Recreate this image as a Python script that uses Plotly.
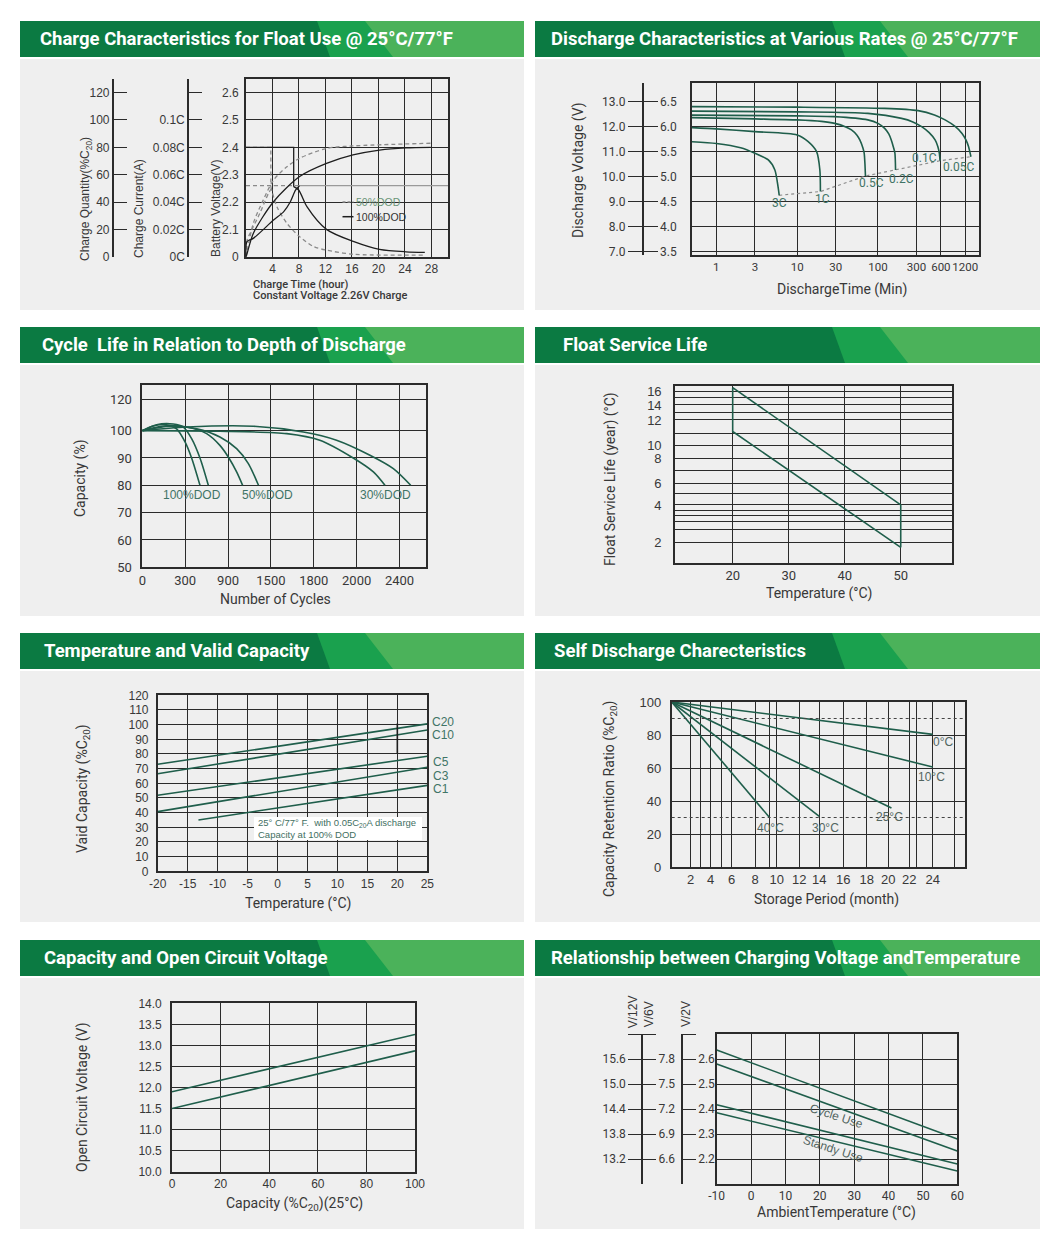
import numpy as np
import plotly.graph_objects as go

W, H = 1060, 1250
OFF = 8  # page body margin of the rendered html
FA = "Liberation Sans, Arial, sans-serif"
FD = "Roboto, sans-serif"
INK = "#2b2b2b"
TXT = "#383838"
CURVE = "#1f5e4b"
LBL = "#3f7466"
GRAYC = "#8a8a8a"

# ---------------- DATA ----------------
# Panel 1: charge characteristics (time in hours)
p1_x_ticks = [4, 8, 12, 16, 20, 24, 28]
p1_v_ticks = [2.0, 2.1, 2.2, 2.3, 2.4, 2.5, 2.6]
p1_v_labels = ["0", "2.1", "2.2", "2.3", "2.4", "2.5", "2.6"]
p1_q_ticks = [0, 20, 40, 60, 80, 100, 120]
p1_c_ticks = [0, 0.02, 0.04, 0.06, 0.08, 0.10]
p1_c_labels = ["0C", "0.02C", "0.04C", "0.06C", "0.08C", "0.1C"]
p1_c_top = 0.12
p1_cur100_t = [0, 7.2, 7.2, 7.95, 9.2, 12.15, 16.3, 20.15, 24.15, 27.0]
p1_cur100_c = [0.08, 0.08, 0.0512, 0.0488, 0.0366, 0.020, 0.011, 0.0054, 0.0036, 0.0032]
p1_cur50_t = [0, 3.75, 3.75, 4.66, 6.18, 8.1, 10.2, 12.15, 16.15, 26.7]
p1_cur50_c = [0.08, 0.08, 0.0512, 0.0366, 0.0244, 0.0146, 0.0074, 0.0048, 0.0018, 0.0012]
p1_q100_t = [0, 0.1, 1.1, 4.15, 8.1, 12.15, 16.15, 20.15, 24.15, 27.9]
p1_q100 = [0, 1.2, 17, 40.2, 58.6, 68.2, 74.4, 78, 79.6, 80]
p1_q50_t = [0, 0.1, 1.1, 2.6, 4.15, 6.18, 8.1, 12.15, 16.15, 27.9]
p1_q50 = [0, 2.4, 24.4, 41.4, 56, 65.8, 72, 79.2, 81, 83]
p1_v100_t = [0, 0.15, 1.1, 4.15, 5.7, 6.7, 7.5, 8.1]
p1_v100 = [2.0, 2.055, 2.067, 2.134, 2.165, 2.201, 2.244, 2.26]
p1_v50_t = [0, 0.15, 0.6, 2.1, 3.4, 4.15]
p1_v50 = [2.0, 2.06, 2.085, 2.159, 2.232, 2.26]
p1_cv = 2.26

# Panel 2: discharge (time in minutes, voltage 12V)
p2_x_ticks = [1, 3, 10, 30, 100, 300, 600, 1200]
p2_v12_ticks = [7, 8, 9, 10, 11, 12, 13]
p2_v6_ticks = [3.5, 4.0, 4.5, 5.0, 5.5, 6.0, 6.5]
p2_rates = ["3C", "1C", "0.5C", "0.2C", "0.1C", "0.05C"]
p2_t_3C = [0.5, 1, 2, 3, 4.4, 5.3, 5.8, 6.0]
p2_v_3C = [11.39, 11.32, 11.15, 10.93, 10.66, 10.26, 9.6, 9.25]
p2_t_1C = [0.5, 1, 3, 10, 13.7, 17.4, 19.1, 19.4]
p2_v_1C = [11.95, 11.9, 11.79, 11.66, 11.39, 10.99, 10.26, 9.4]
p2_t_05C = [0.5, 3, 10, 20, 29.2, 40, 47, 55, 59.6, 65, 67.5, 69, 70]
p2_v_05C = [12.35, 12.3, 12.26, 12.2, 12.12, 11.98, 11.86, 11.65, 11.46, 11.15, 10.93, 10.5, 10.02]
p2_t_02C = [0.5, 10, 29, 75, 100, 121, 136, 146, 156, 162, 165]
p2_v_02C = [12.45, 12.42, 12.39, 12.26, 12.12, 11.92, 11.7, 11.46, 11.15, 10.93, 10.26]
p2_t_01C = [0.5, 10, 75, 196, 270, 347, 430, 509, 550, 574, 586]
p2_v_01C = [12.61, 12.58, 12.52, 12.32, 12.18, 11.99, 11.75, 11.46, 11.2, 10.93, 10.63]
p2_t_005C = [0.5, 10, 121, 314, 500, 677, 900, 1097, 1230, 1322, 1413]
p2_v_005C = [12.79, 12.77, 12.72, 12.63, 12.46, 12.26, 12.0, 11.72, 11.45, 11.19, 10.79]

# Panel 3: cycle life
p3_x_ticks = [0, 300, 900, 1500, 1800, 2000, 2400]
p3_y_ticks = [50, 60, 70, 80, 90, 100, 120]
p3_cyc_A = [0, 77, 170, 240, 299, 390, 507]
p3_cap_A = [100, 103.0, 103.8, 101.2, 95.9, 90, 80]
p3_cyc_B = [0, 100, 217, 287, 390, 507, 624]
p3_cap_B = [100, 103.8, 104.2, 102.3, 97.1, 90, 80]
p3_cyc_C = [0, 147, 320, 600, 786, 912, 1020, 1104]
p3_cap_C = [100, 103.0, 102.3, 98.9, 94.6, 90, 84.9, 80]
p3_cyc_D = [0, 194, 462, 786, 1020, 1182, 1326]
p3_cap_D = [100, 102.8, 101.2, 97.7, 93.4, 88, 80]
p3_cyc_E = [0, 786, 1611, 1828, 1984, 2156, 2264]
p3_cap_E = [100, 99.8, 98.9, 96.5, 90, 84.9, 80]
p3_cyc_F = [0, 320, 1254, 1727, 1906, 2124, 2342, 2504]
p3_cap_F = [100, 102.3, 102.8, 99.5, 96.5, 91, 86.1, 80]

# Panel 4: float service life
p4_x_ticks = [20, 30, 40, 50]
p4_y_ticks = [2, 4, 6, 8, 10, 12, 14, 16]
p4_temp = [20, 50]
p4_upper = [16.6, 4.0]
p4_lower = [11.1, 1.73]

# Panel 5: temperature and valid capacity
p5_x_ticks = [-20, -15, -10, -5, 0, 5, 10, 15, 20, 25]
p5_y_ticks = [0, 10, 20, 30, 40, 50, 60, 70, 80, 90, 100, 110, 120]
p5_names = ["C20", "C10", "C5", "C3", "C1"]
p5_temp = [-20, 25]
p5_C20 = [73.0, 100.5]
p5_C10 = [66.5, 96.3]
p5_C5 = [51.8, 78.5]
p5_C3 = [40.7, 71.0]
p5_C1_temp = [-13.2, 25]
p5_C1 = [35.0, 58.6]
p5_mark_temp = [20, 20]
p5_mark = [80.3, 100.7]

# Panel 6: self discharge
p6_x_ticks = [2, 4, 6, 8, 10, 12, 14, 16, 18, 20, 22, 24]
p6_y_ticks = [0, 20, 40, 60, 80, 100]
p6_names = ["0°C", "10°C", "25°C", "30°C", "40°C"]
p6_start = (0, 100)
p6_end_month = [24, 24, 20.3, 14, 9.3]
p6_end_ratio = [80.4, 60.6, 35.8, 30.7, 30.3]
p6_ref = [90, 30]

# Panel 7: OCV
p7_x_ticks = [0, 20, 40, 60, 80, 100]
p7_y_ticks = [10.0, 10.5, 11.0, 11.5, 12.0, 12.5, 13.0, 13.5, 14.0]
p7_cap = [0, 100]
p7_upper = [11.90, 13.26]
p7_lower = [11.50, 12.87]

# Panel 8: charging voltage vs temperature
p8_x_ticks = [-10, 0, 10, 20, 30, 40, 50, 60]
p8_v2_ticks = [2.2, 2.3, 2.4, 2.5, 2.6]
p8_v12_ticks = [13.2, 13.8, 14.4, 15.0, 15.6]
p8_v6_ticks = [6.6, 6.9, 7.2, 7.5, 7.8]
p8_temp = [-10, 60]
p8_cycle_hi = [2.636, 2.280]
p8_cycle_lo = [2.580, 2.232]
p8_stand_hi = [2.417, 2.180]
p8_stand_lo = [2.385, 2.152]


# ---------------- helpers ----------------
def scale(v, vals, pos):
    v = np.atleast_1d(np.asarray(v, float))
    vals = np.asarray(vals, float)
    pos = np.asarray(pos, float)
    out = np.interp(v, vals, pos)
    lo = v < vals[0]
    hi = v > vals[-1]
    out[lo] = pos[0] + (v[lo] - vals[0]) * (pos[1] - pos[0]) / (vals[1] - vals[0])
    out[hi] = pos[-1] + (v[hi] - vals[-1]) * (pos[-1] - pos[-2]) / (vals[-1] - vals[-2])
    return out


def px(x):
    return (x - OFF) / W


def py(y):
    return 1 - (y - OFF) / H


def xd(l, r):
    return [px(l), px(r)]


def yd(t, b):
    return [py(b), py(t)]


fig = go.Figure()


def line(n, x, y, color=CURVE, width=1.5, dash="solid", shape="linear", smooth=1.0, yax=None):
    s = "" if n == 1 else str(n)
    fig.add_trace(go.Scatter(
        x=list(x), y=list(y), xaxis="x" + s, yaxis=yax or ("y" + s), mode="lines",
        line=dict(color=color, width=width, dash=dash, shape=shape,
                  smoothing=smooth if shape == "spline" else None),
        hoverinfo="skip", showlegend=False))


def axis(dom, anchor, rng, tickvals, ticktext=None, labels=True, size=12, family=FA,
         standoff=None, grid=True, **extra):
    d = dict(domain=dom, anchor=anchor, range=rng, showline=True, linecolor=INK, linewidth=1.6,
             mirror=True, showgrid=grid, gridcolor=INK, gridwidth=1, zeroline=False, ticks="",
             showticklabels=labels, tickfont=dict(size=size, family=family, color=TXT),
             tickmode="array", tickvals=list(tickvals), fixedrange=True, automargin=False,
             tickangle=0)
    if ticktext is not None:
        d["ticktext"] = list(ticktext)
    if standoff is not None:
        d["ticklabelstandoff"] = standoff
    d.update(extra)
    return d


def free_axis(over, pos, side, rng, tickvals, ticktext, ticklen, showline=True, size=12,
              family=FA, ticks="outside", cap=None):
    d = dict(overlaying=over, anchor="free", position=pos, side=side, range=rng,
             tickmode="array", tickvals=list(tickvals), ticktext=list(ticktext),
             ticks=ticks, ticklen=ticklen, tickwidth=1.3, tickcolor=INK,
             showline=showline, linecolor=INK, linewidth=1.6, showgrid=False,
             zeroline=False, tickfont=dict(size=size, family=family, color=TXT),
             fixedrange=True, automargin=False, tickangle=0)
    if cap is not None:
        d["minor"] = dict(tickmode="array", tickvals=[cap], ticks=ticks, ticklen=ticklen,
                          tickwidth=1.3, tickcolor=INK, showgrid=False)
    return d


layout = dict(width=W, height=H, margin=dict(l=0, r=0, t=0, b=0), template="none",
              paper_bgcolor="white", plot_bgcolor="white", showlegend=False,
              font=dict(family=FA, color=TXT, size=12))
shapes = []
ann = []


def A(x, y, text, size=12, color=TXT, family=FA, xa="center", ya="middle", angle=0, weight=None):
    f = dict(size=size, color=color, family=family)
    if weight:
        f["weight"] = weight
    ann.append(dict(x=px(x), y=py(y), xref="paper", yref="paper", text=text, showarrow=False,
                    font=f, xanchor=xa, yanchor=ya, textangle=angle))


# ---------------- panel frames ----------------
DARK, MID, LIGHT, BODY = "#0b7a42", "#1aa14e", "#4bb25a", "#efefef"
cols = [(20, 524), (535, 1040)]
rows = [(21, 310), (327, 616), (633, 922), (940, 1229)]
titles = [
    ("Charge Characteristics for Float Use @ 25°C/77°F", 18),
    ("Discharge Characteristics at Various Rates @ 25°C/77°F", 14),
    ("Cycle  Life in Relation to Depth of Discharge", 20),
    ("Float Service Life", 26),
    ("Temperature and Valid Capacity", 22),
    ("Self Discharge Charecteristics", 17),
    ("Capacity and Open Circuit Voltage", 22),
    ("Relationship between Charging Voltage andTemperature", 14),
]
for i, (title, off) in enumerate(titles):
    x0, x1 = cols[i % 2]
    top, bot = rows[i // 2]
    hb = top + 36
    shapes.append(dict(type="rect", xref="paper", yref="paper", x0=px(x0), x1=px(x1),
                       y0=py(bot), y1=py(top + 38), fillcolor=BODY, line=dict(width=0), layer="below"))
    shapes.append(dict(type="rect", xref="paper", yref="paper", x0=px(x0), x1=px(x1),
                       y0=py(hb), y1=py(top), fillcolor=DARK, line=dict(width=0), layer="below"))
    for (a, b, c) in [(297, 310, MID), (345, 373, LIGHT)]:
        path = (f"M {px(x0 + a)} {py(top)} L {px(x1)} {py(top)} L {px(x1)} {py(hb)} "
                f"L {px(x0 + b)} {py(hb)} Z")
        shapes.append(dict(type="path", xref="paper", yref="paper", path=path, fillcolor=c,
                           line=dict(width=0), layer="below"))
    A(x0 + off, top + 18, "<b>" + title + "</b>", size=18.5, color="white", family=FD, xa="left")

# ---------------- Panel 1 ----------------
P1_V0, P1_Q_PER_V, P1_C_PER_V = 2.0, 200.0, 0.2
P1_XMAX = 30.5
P1_YR = [2.0, 2.651]
q2v = lambda q: [P1_V0 + v / P1_Q_PER_V for v in q]
c2v = lambda c: [P1_V0 + v / P1_C_PER_V for v in c]

line(1, [0, p1_v100_t[-1]], [p1_cv, p1_cv], color=GRAYC, width=1.2, dash="4px,3px")
line(1, [p1_v100_t[-1], P1_XMAX], [p1_cv, p1_cv], color="#9a9a9a", width=1.4)
line(1, p1_cur50_t[:3], c2v(p1_cur50_c[:3]), color=GRAYC, width=1.3, dash="4px,3px")
line(1, p1_cur50_t[2:], c2v(p1_cur50_c[2:]), color=GRAYC, width=1.3, dash="4px,3px", shape="spline", smooth=0.8)
line(1, p1_q50_t, q2v(p1_q50), color=GRAYC, width=1.3, dash="4px,3px", shape="spline", smooth=0.8)
line(1, p1_v50_t, p1_v50, color=GRAYC, width=1.3, dash="4px,3px", shape="spline", smooth=0.8)
line(1, p1_cur100_t[:3], c2v(p1_cur100_c[:3]), color="#1e1e1e", width=1.3)
line(1, p1_cur100_t[2:], c2v(p1_cur100_c[2:]), color="#1e1e1e", width=1.3, shape="spline", smooth=0.8)
line(1, p1_q100_t, q2v(p1_q100), color="#1e1e1e", width=1.3, shape="spline", smooth=0.8)
line(1, p1_v100_t, p1_v100, color="#1e1e1e", width=1.3, shape="spline", smooth=0.8)

layout["xaxis"] = axis(xd(246, 448), "y", [0, P1_XMAX], p1_x_ticks, [str(v) for v in p1_x_ticks])
layout["yaxis"] = axis(yd(78.7, 256.7), "x", P1_YR, p1_v_ticks, p1_v_labels, standoff=3)
layout["yaxis9"] = free_axis("y", px(112.7), "left", P1_YR, q2v(p1_q_ticks),
                             [str(v) for v in p1_q_ticks], 13, ticks="inside")
layout["yaxis10"] = free_axis("y", px(188), "left", P1_YR, c2v(p1_c_ticks), p1_c_labels, 13,
                              ticks="inside", cap=c2v([p1_c_top])[0])
line(1, [None], [None], yax="y9")
line(1, [None], [None], yax="y10")

A(86, 199, "Charge Quantity(%C<sub>20</sub>)", size=12, angle=-90)
A(139, 209, "Charge Current(A)", size=12, angle=-90)
A(216, 209, "Battery Voltage(V)", size=12, angle=-90)
A(251, 284, "Charge Time (hour)", size=11, family=FD, xa="left", weight=500)
A(251, 296, "Constant Voltage 2.26V Charge", size=11, family=FD, xa="left", weight=500)
shapes.append(dict(type="line", xref="paper", yref="paper", x0=px(342.5), x1=px(353.5),
                   y0=py(202), y1=py(202), line=dict(color=GRAYC, width=1.3, dash="3px,2px")))
shapes.append(dict(type="line", xref="paper", yref="paper", x0=px(342.5), x1=px(353.5),
                   y0=py(216.7), y1=py(216.7), line=dict(color="#1e1e1e", width=1.5)))
A(354, 202, "50%DOD", size=10.5, color="#6a9478", xa="left")
A(354, 216.7, "100%DOD", size=10.5, color="#333333", xa="left")

# ---------------- Panel 2 ----------------
P2_YR = [6.854, 13.745]
P2_XR = [np.log10(0.5), 3.25]
p2_series = [(p2_t_3C, p2_v_3C), (p2_t_1C, p2_v_1C), (p2_t_05C, p2_v_05C),
             (p2_t_02C, p2_v_02C), (p2_t_01C, p2_v_01C), (p2_t_005C, p2_v_005C)]
line(2, [s[0][-1] for s in p2_series], [s[1][-1] for s in p2_series], color="#8c8c8c",
     width=1.2, dash="dot")
for t, v in p2_series:
    line(2, t, v, color=CURVE, width=1.6, shape="spline", smooth=0.7)
layout["xaxis2"] = axis(xd(692, 979), "y2", P2_XR, p2_x_ticks, [str(v) for v in p2_x_ticks],
                        type="log", family=FD, size=11.5)
layout["yaxis2"] = axis(yd(82.7, 255.3), "x2", P2_YR, p2_v12_ticks, labels=False)
layout["yaxis11"] = free_axis("y2", px(642.7), "left", P2_YR, p2_v12_ticks,
                              [f"{v:.1f}" for v in p2_v12_ticks], 14, family=FD)
layout["yaxis12"] = free_axis("y2", px(642.7), "right", P2_YR, [2 * v for v in p2_v6_ticks],
                              [f"{v:.1f}" for v in p2_v6_ticks], 14, showline=False, family=FD)
line(2, [None], [None], yax="y11")
line(2, [None], [None], yax="y12")
A(579, 170, "Discharge Voltage (V)", size=14, family=FD, angle=-90)
A(842, 289, "DischargeTime (Min)", size=14, family=FD)
for name, (x, y) in zip(p2_rates, [(779, 203), (822, 199), (871, 183), (901, 179), (924, 158), (958, 167)]):
    A(x, y, name, size=12, color=LBL, family=FD)

# ---------------- Panel 3 ----------------
p3_x_pos = list(range(len(p3_x_ticks)))
p3_y_pos = [0, 1, 2, 3, 4, 5, 6.15]
for cyc, cap in [(p3_cyc_A, p3_cap_A), (p3_cyc_B, p3_cap_B), (p3_cyc_C, p3_cap_C),
                 (p3_cyc_D, p3_cap_D), (p3_cyc_E, p3_cap_E), (p3_cyc_F, p3_cap_F)]:
    line(3, scale(cyc, p3_x_ticks, p3_x_pos), scale(cap, p3_y_ticks, p3_y_pos),
         color=CURVE, width=1.6, shape="spline", smooth=0.8)
layout["xaxis3"] = axis(xd(142.3, 425.7), "y3", [0, 6.61], p3_x_pos,
                        [str(v) for v in p3_x_ticks], family=FD, size=13)
layout["yaxis3"] = axis(yd(385, 567.3), "x3", [0, 6.67], p3_y_pos,
                        [str(v) for v in p3_y_ticks], family=FD, size=13, standoff=6)
A(80, 478, "Capacity (%)", size=14, family=FD, angle=-90)
A(275, 599, "Number of Cycles", size=14, family=FD)
for name, x in [("100%DOD", 192), ("50%DOD", 267), ("30%DOD", 385)]:
    A(x, 495, name, size=12, color=LBL)

# ---------------- Panel 4 ----------------
p4_y_pos = [0.117, 0.328, 0.450, 0.592, 0.663, 0.808, 0.893, 0.968]
p4_minor_pos = [0.192, 0.233, 0.266, 0.299, 0.390, 0.521, 0.733, 0.851, 0.936]
p4_px = p4_temp + p4_temp[::-1] + [p4_temp[0]]
p4_py = p4_upper + p4_lower[::-1] + [p4_upper[0]]
line(4, p4_px, scale(p4_py, p4_y_ticks, p4_y_pos), color=CURVE, width=1.6)
layout["xaxis4"] = axis(xd(675, 951.7), "y4", [9.7, 59.1], p4_x_ticks,
                        [str(v) for v in p4_x_ticks], family=FD, size=13)
layout["yaxis4"] = axis(yd(386, 563), "x4", [0, 1], p4_y_pos, [str(v) for v in p4_y_ticks],
                        size=13, standoff=9,
                        minor=dict(tickmode="array", tickvals=p4_minor_pos, showgrid=True,
                                   gridcolor=INK, gridwidth=1, ticks=""))
A(610, 479, "Float Service Life (year) (°C)", size=14, family=FD, angle=-90)
A(819, 593, "Temperature (°C)", size=14, family=FD)

# ---------------- Panel 5 ----------------
shapes.append(dict(type="rect", xref="paper", yref="paper", x0=px(254), x1=px(422),
                   y0=py(840), y1=py(817), fillcolor="white", line=dict(width=0), layer="above"))
for y in [p5_C20, p5_C10, p5_C5, p5_C3]:
    line(5, p5_temp, y, color=CURVE, width=1.6)
line(5, p5_C1_temp, p5_C1, color=CURVE, width=1.6)
line(5, p5_mark_temp, p5_mark, color="#1e1e1e", width=1.6)
layout["xaxis5"] = axis(xd(157.7, 427.3), "y5", [-20, 25], p5_x_ticks,
                        [str(v) for v in p5_x_ticks], size=12)
layout["yaxis5"] = axis(yd(695.3, 871.3), "x5", [0, 120], p5_y_ticks,
                        [str(v) for v in p5_y_ticks], size=12, standoff=5)
for name, (x, y) in zip(p5_names, [(443, 722), (443, 735), (441, 762), (441, 776), (441, 789)]):
    A(x, y, name, size=12, color=LBL)
A(255.5, 823, "25° C/77° F.  with 0.05C<sub>20</sub>A discharge", size=9.5, color="#3f6f62", xa="left")
A(255.5, 834, "Capacity at 100% DOD", size=9.5, color="#3f6f62", xa="left")
A(83, 789, "Vaid Capacity (%C<sub>20</sub>)", size=14, family=FD, angle=-90)
A(298, 903, "Temperature (°C)", size=14, family=FD)

# ---------------- Panel 6 ----------------
p6_months = [0, 2, 4, 6, 8, 10, 12, 14, 16, 18, 20, 22, 24]
p6_month_pos = [0, 19, 39, 60, 83.3, 105, 127.6, 147.6, 171.6, 195, 216.6, 237.6, 261]
p6_minor_pos = [29, 50, 97.6, 245, 282.6]
for m, r in zip(p6_end_month, p6_end_ratio):
    line(6, scale([p6_start[0], m], p6_months, p6_month_pos), [p6_start[1], r],
         color=CURVE, width=1.6)
for r in p6_ref:
    shapes.append(dict(type="line", xref="x6 domain", yref="y6", x0=0, x1=1, y0=r, y1=r,
                       line=dict(color="#444444", width=1, dash="dot"), layer="above"))
layout["xaxis6"] = axis(xd(671.7, 965), "y6", [0, 293.3], scale(p6_x_ticks, p6_months, p6_month_pos),
                        [str(v) for v in p6_x_ticks], size=13,
                        minor=dict(tickmode="array", tickvals=p6_minor_pos, showgrid=True,
                                   gridcolor=INK, gridwidth=1, ticks=""))
layout["yaxis6"] = axis(yd(702, 867), "x6", [0, 100], p6_y_ticks,
                        [str(v) for v in p6_y_ticks], size=13, standoff=6)
for name, (x, y) in zip(p6_names, [(943, 741.5), (931, 776.5), (889, 817.5), (825, 827.5), (770, 827.5)]):
    A(x, y, name, size=12, color="#52655f")
A(610, 799, "Capacity Retention Ratio (%C<sub>20</sub>)", size=14, family=FD, angle=-90)
A(826, 899, "Storage Period (month)", size=14, family=FD)

# ---------------- Panel 7 ----------------
line(7, p7_cap, p7_upper, color=CURVE, width=1.6)
line(7, p7_cap, p7_lower, color=CURVE, width=1.6)
layout["xaxis7"] = axis(xd(172, 415), "y7", [0, 100], p7_x_ticks,
                        [str(v) for v in p7_x_ticks], size=12)
layout["yaxis7"] = axis(yd(1003.3, 1171.7), "x7", [10, 14], p7_y_ticks,
                        [f"{v:.1f}" for v in p7_y_ticks], size=12, standoff=6)
A(82, 1097, "Open Circuit Voltage (V)", size=14, family=FD, angle=-90)
A(294, 1204, "Capacity (%C<sub>20</sub>)(25°C)", size=14, family=FD)

# ---------------- Panel 8 ----------------
P8_YR = [2.1, 2.7]
for y in [p8_cycle_hi, p8_cycle_lo, p8_stand_hi, p8_stand_lo]:
    line(8, p8_temp, y, color=CURVE, width=1.6)
layout["xaxis8"] = axis(xd(716.7, 957.3), "y8", [-10, 60], p8_x_ticks,
                        [str(v) for v in p8_x_ticks], family=FD, size=12)
layout["yaxis8"] = axis(yd(1034, 1184), "x8", P8_YR, p8_v2_ticks, labels=False)
cap = P8_YR[1]
layout["yaxis13"] = free_axis("y8", px(641.7), "left", P8_YR, [v / 6 for v in p8_v12_ticks],
                              [f"{v:.1f}" for v in p8_v12_ticks], 12.7, family=FD, cap=cap)
layout["yaxis14"] = free_axis("y8", px(641.7), "right", P8_YR, [v / 3 for v in p8_v6_ticks],
                              [f"{v:.1f}" for v in p8_v6_ticks], 13.3, showline=False, family=FD,
                              cap=cap)
layout["yaxis15"] = free_axis("y8", px(682), "right", P8_YR, p8_v2_ticks,
                              [f"{v:.1f}" for v in p8_v2_ticks], 13, family=FD, cap=cap)
for a in ["y13", "y14", "y15"]:
    line(8, [None], [None], yax=a)
A(633.3, 1012, "V/12V", size=12, angle=-90)
A(649.3, 1014, "V/6V", size=12, angle=-90)
A(686, 1014, "V/2V", size=12, angle=-90)
A(836, 1116, "Cycle Use", size=12, color="#52655f", angle=18)
A(833, 1149, "Standy Use", size=12, color="#52655f", angle=18)
A(836, 1212, "AmbientTemperature (°C)", size=14, family=FD)

layout["shapes"] = shapes
layout["annotations"] = ann
fig.update_layout(**layout)
fig.write_html("out.html")
